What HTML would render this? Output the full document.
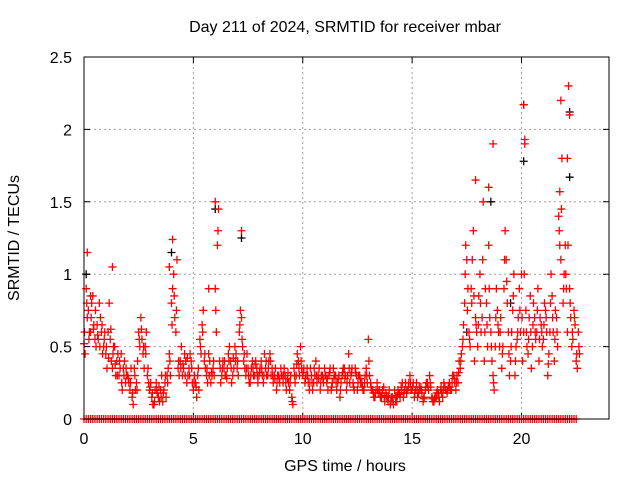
<!DOCTYPE html>
<html><head><meta charset="utf-8"><style>
body{margin:0;background:#fff}
svg{display:block;font-family:"Liberation Sans",sans-serif}
</style></head><body>
<svg id="c" width="640" height="480">
<text x="345" y="32" text-anchor="middle" font-size="16">Day 211 of 2024, SRMTID for receiver mbar</text>
<text x="345" y="471" text-anchor="middle" font-size="16">GPS time / hours</text>
<text transform="translate(19,238) rotate(-90)" text-anchor="middle" font-size="16">SRMTID / TECUs</text>
<g id="grid"></g><g id="ticks"></g><g id="pts"></g>
<rect x="84" y="57" width="525" height="362" fill="none" stroke="#000"/>
</svg>
<script>
const xTicks=[0,5,10,15,20];
const yTicks=[0,0.5,1,1.5,2,2.5];
const yTickLabels=["0","0.5","1","1.5","2","2.5"];
const seriesA=[.52,.9,.75,.6,.85,.55,.65,.8,.6,.5,
.45,.6,.55,.35,.5,.4,.3,.45,.35,.25,
.3,.2,.15,.35,.25,.6,.7,.45,.5,.3,
.2,.15,.1,.25,.15,.2,.12,.25,.3,.45,
.8,1.0,.6,.35,.4,.3,.45,.25,.35,.4,
.2,.25,.3,.55,.65,.4,.3,.45,.25,.35,
.9,1.2,.4,.3,.35,.3,.45,.4,.3,.5,
.35,.6,.7,.4,.3,.35,.25,.4,.3,.35,
.3,.4,.25,.35,.3,.45,.35,.3,.2,.3,
.35,.25,.3,.28,.2,.15,.35,.3,.4,.5,
.3,.25,.35,.2,.3,.25,.4,.3,.2,.3,
.35,.25,.3,.2,.35,.3,.25,.15,.3,.35,
.2,.45,.3,.25,.35,.2,.3,.25,.2,.35,
.55,.25,.2,.15,.25,.2,.15,.22,.18,.12,
.1,.15,.2,.12,.18,.22,.15,.25,.2,.3,
.2,.15,.25,.18,.22,.12,.2,.25,.3,.15,
.12,.15,.18,.2,.15,.22,.18,.25,.2,.3,
.2,.25,.35,.5,.8,1.1,.6,.9,1.3,.7,
.5,1.0,.7,.4,.8,1.2,.6,.3,.5,.75,
.5,.35,.9,1.1,.6,.4,.75,.3,.55,.9,
1.0,.6,.75,.45,.85,.5,.7,.6,.4,.65,
.55,.75,.3,.6,.85,.4,.7,1.4,1.1,.8,
1.2,.6,.9,.5,.75,.4,.6];
const seriesB=[.45,.7,.6,.8,.65,.5,.55,.7,.45,.6,
.35,.8,.4,.5,.3,.45,.35,.2,.4,.3,
.25,.35,.1,.2,.4,.5,.55,.35,.6,.25,
.25,.1,.2,.18,.12,.3,.2,.15,.35,.3,
.9,.7,1.1,.3,.5,.35,.4,.3,.45,.25,
.3,.15,.2,.45,.75,.35,.25,.4,.3,.3,
.6,1.45,.25,.4,.3,.35,.5,.25,.35,.45,
.3,.75,.5,.35,.45,.25,.35,.3,.4,.25,
.35,.3,.45,.3,.4,.3,.25,.35,.3,.25,
.3,.35,.2,.25,.3,.1,.25,.45,.3,.35,
.35,.3,.25,.35,.2,.3,.25,.35,.3,.25,
.3,.2,.35,.25,.3,.2,.3,.25,.35,.3,
.3,.25,.35,.2,.3,.3,.25,.2,.3,.25,
.3,.2,.15,.2,.18,.15,.2,.12,.15,.2,
.15,.1,.12,.2,.15,.25,.2,.18,.25,.2,
.25,.2,.15,.2,.18,.15,.25,.2,.22,.12,
.15,.2,.12,.18,.25,.2,.22,.2,.3,.25,
.3,.4,.45,.65,1.2,.9,.5,1.1,.4,.6,
.85,.6,1.5,.9,.5,.7,.4,.2,.9,.6,
.7,.5,1.3,.8,.3,.6,1.0,.5,.7,.6,
.4,1.9,.5,.7,.35,.8,.55,.9,.7,.5,
.8,.6,.45,1.0,.6,.75,.5,1.2,1.8,1.0,
.9,2.3,.7,.55,.65,.35,.45];
const seriesC=[.6,.8,.55,.7,.62,.75,.58,.5,.65,.55,
.5,.42,.62,.45,.38,.3,.4,.25,.3,.35,
.28,.25,.18,.3,.2,.55,.62,.5,.45,.35,
.22,.18,.12,.2,.22,.15,.18,.3,.25,.4,
.65,.85,.75,.4,.35,.38,.3,.42,.3,.35,
.25,.22,.35,.5,.6,.45,.35,.3,.32,.4,
.75,1.3,.35,.35,.4,.28,.4,.35,.42,.4,
.4,.65,.55,.45,.35,.3,.3,.35,.38,.3,
.32,.35,.3,.4,.35,.4,.3,.28,.25,.28,
.3,.3,.25,.32,.25,.12,.3,.38,.35,.4,
.32,.28,.3,.25,.25,.35,.3,.28,.25,.28,
.3,.28,.32,.22,.28,.25,.28,.2,.32,.28,
.25,.35,.32,.22,.32,.25,.28,.22,.25,.3,
.4,.22,.18,.18,.2,.18,.18,.15,.16,.15,
.12,.12,.16,.16,.17,.2,.18,.2,.22,.25,
.22,.18,.2,.22,.2,.14,.22,.22,.25,.14,
.14,.18,.15,.22,.2,.2,.2,.22,.25,.28,
.25,.32,.4,.55,1.0,.75,.55,.8,.85,.65,
.65,.8,1.1,.6,.65,.9,.5,.25,.7,.65,
.6,.45,1.1,.95,.45,.5,.85,.4,.6,.75,
.7,1.0,.6,.55,.6,.65,.6,.75,.55,.6,
.65,.7,.38,.8,.7,.55,.6,1.3,1.45,.9,
1.0,1.2,.8,.6,.7,.45,.5];
const spikeT=[0.15,1.3,4.05,6.0,7.2,18.7,20.1,20.15,21.8,22.2,21.75,22.1,17.9,18.5,0.3,3.9,5.7];
const spikeV=[1.15,1.05,1.24,1.5,1.3,1.9,2.17,1.93,2.2,2.1,1.57,1.8,1.65,1.6,0.85,1.05,0.9];
const blackT=[0.1,4.0,6.0,7.2,18.6,20.1,20.1,22.2,22.2,17.5,19.5];
const blackV=[1.0,1.15,1.45,1.25,1.5,2.17,1.78,2.12,1.67,0.6,0.8];
const zeroT=[];
for(let t=0;t<=22.6;t+=0.1)zeroT.push(t); // baseline zero-value epochs at data cadence
const NS="http://www.w3.org/2000/svg";
const X=v=>84+v*525/24, Y=v=>419-v*362/2.5;
function mk(tag,attrs,parent){const e=document.createElementNS(NS,tag);for(const k in attrs)e.setAttribute(k,attrs[k]);parent.appendChild(e);return e;}
const grid=document.getElementById('grid'),ticks=document.getElementById('ticks'),pts=document.getElementById('pts');
xTicks.forEach(v=>{
 if(v>0){const g=mk('line',{x1:X(v),x2:X(v),y1:57,y2:419,stroke:'#a0a0a0','stroke-dasharray':'2,3'},grid);
 
 }
 const t=mk('path',{d:`M${X(v)} 419v-6M${X(v)} 57v6`,stroke:'#000'},ticks);
 
 
 const l=mk('text',{x:X(v),y:444,'text-anchor':'middle','font-size':16},ticks);l.textContent=v;
 
 
});
yTicks.forEach((v,i)=>{
 if(v>0&&v<2.5){const g=mk('line',{x1:84,x2:609,y1:Y(v),y2:Y(v),stroke:'#a0a0a0','stroke-dasharray':'2,3'},grid);
 
 }
 const t=mk('path',{d:`M84 ${Y(v)}h6M609 ${Y(v)}h-6`,stroke:'#000'},ticks);
 
 
 const l=mk('text',{x:72,y:Y(v)+6,'text-anchor':'end','font-size':16},ticks);l.textContent=yTickLabels[i];
 
 
});
function plus(t,v,color,name){
 const p=mk('path',{d:`M${X(t)-4} ${Y(v)}h8M${X(t)} ${Y(v)-4}v8`,stroke:color,'stroke-width':1.3},pts);
 
 
}
blackT.forEach((t,i)=>plus(t,blackV[i],'#000','black-point'));
seriesA.forEach((v,i)=>plus(i*0.1,v,'#f00','srmtid-point'));
seriesB.forEach((v,i)=>plus(i*0.1+0.05,v,'#f00','srmtid-point'));
seriesC.forEach((v,i)=>plus(i*0.1+0.025,v,'#f00','srmtid-point'));
spikeT.forEach((t,i)=>plus(t,spikeV[i],'#f00','srmtid-spike'));
zeroT.forEach(t=>plus(t,0,'#f00','zero-point'));
</script>
</body></html>
